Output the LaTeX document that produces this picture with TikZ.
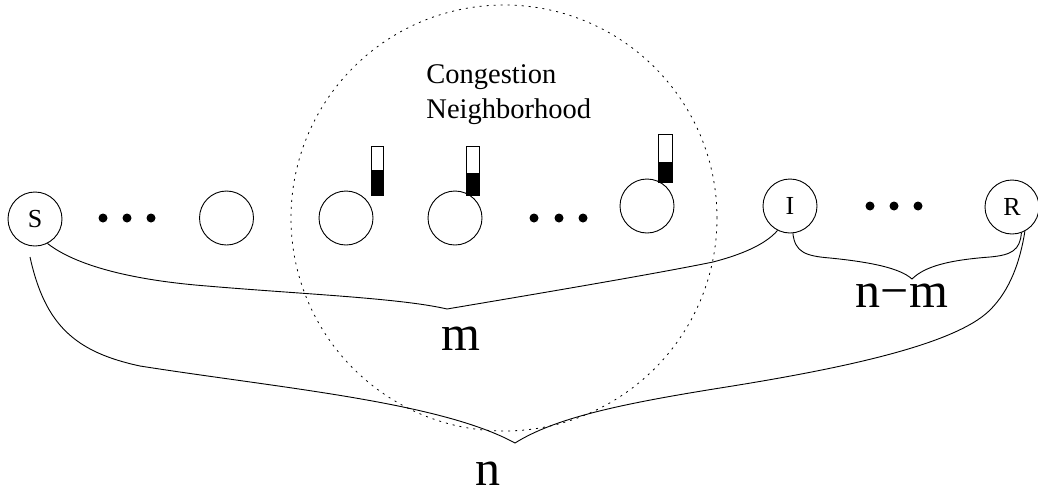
\documentclass[tikz,border=0pt]{standalone}
\usepackage{fontspec}
\setmainfont{Liberation Serif}
\begin{document}
\begin{tikzpicture}[x=1pt,y=-1pt,line width=0.9pt,
  nd/.style={circle,draw,minimum size=54pt,inner sep=0pt,font=\fontsize{26}{30}\selectfont},
  dotnode/.style={circle,fill,minimum size=9pt,inner sep=0pt},
  biglabel/.style={font=\fontsize{50}{56}\selectfont,anchor=base,inner sep=0pt},
  bufbox/.style={draw,fill=white,line width=0.8pt},
  hoodline/.style={draw,circle,line width=0.8pt,dash pattern=on 2pt off 5pt,minimum size=426pt,inner sep=0pt}]
\useasboundingbox (0,0) rectangle (1038,493);
% neighbourhood
\node[hoodline] (hood) at (504,218) {};
\node[anchor=base west,inner sep=0pt,align=left,font=\fontsize{28.5}{35}\selectfont] (hoodtxt) at (426,118) {Congestion\\Neighborhood};
% nodes
\node[nd] (S) at (35,219) {S};
\node[dotnode] (d1) at (103,218) {};
\node[dotnode] (d2) at (127,218) {};
\node[dotnode] (d3) at (151,218) {};
\node[nd] (c2) at (226.5,218) {};
\node[nd] (c3) at (346,218) {};
\node[nd] (c4) at (455,218) {};
\node[dotnode] (d4) at (534,218) {};
\node[dotnode] (d5) at (559,218) {};
\node[dotnode] (d6) at (583,218) {};
\node[nd] (c5) at (647,206) {};
\node[nd] (I) at (790,206) {I};
\node[dotnode] (d7) at (870,206) {};
\node[dotnode] (d8) at (894,206) {};
\node[dotnode] (d9) at (918,206) {};
\node[nd] (R) at (1012,207) {R};
% buffers
\draw[bufbox] (371,146) rectangle (383,195);
\fill (371,170) rectangle (383,195);
\draw[bufbox] (466,146) rectangle (479,195);
\fill (466,173) rectangle (479,195);
\draw[bufbox] (658,134) rectangle (672,182);
\fill (658,162) rectangle (672,182);
% braces
\coordinate (mtip) at (447,309);
\coordinate (ntip) at (515,443);
\coordinate (nmtip) at (912,279);
\coordinate (nstart) at (30,257);
\draw (S.-63) .. controls (75,265) and (130,280) .. (207,286)
  .. controls (300,294) and (400,298) .. (mtip)
  .. controls (500,300) and (650,275) .. (713,262)
  .. controls (740,255) and (765,245) .. (I.-117);
\draw (nstart) .. controls (45,325) and (75,352) .. (140,366)
  .. controls (280,388) and (440,402) .. (ntip)
  .. controls (555,418) and (620,404) .. (720,388)
  .. controls (840,369) and (955,345) .. (990,310)
  .. controls (1010,290) and (1020,262) .. (R.-62);
\draw (I.-84) .. controls (795,252) and (805,256) .. (830,258)
  .. controls (870,262) and (900,268) .. (nmtip)
  .. controls (925,266) and (950,260) .. (990,257)
  .. controls (1012,255) and (1020,250) .. (R.-70);
% labels
\node[biglabel] (mlab) at (461,350) {m};
\node[biglabel] (nmlab) at (902,307) {n\textminus m};
\node[biglabel] (nlab) at (488,485) {n};
\end{tikzpicture}
\end{document}
